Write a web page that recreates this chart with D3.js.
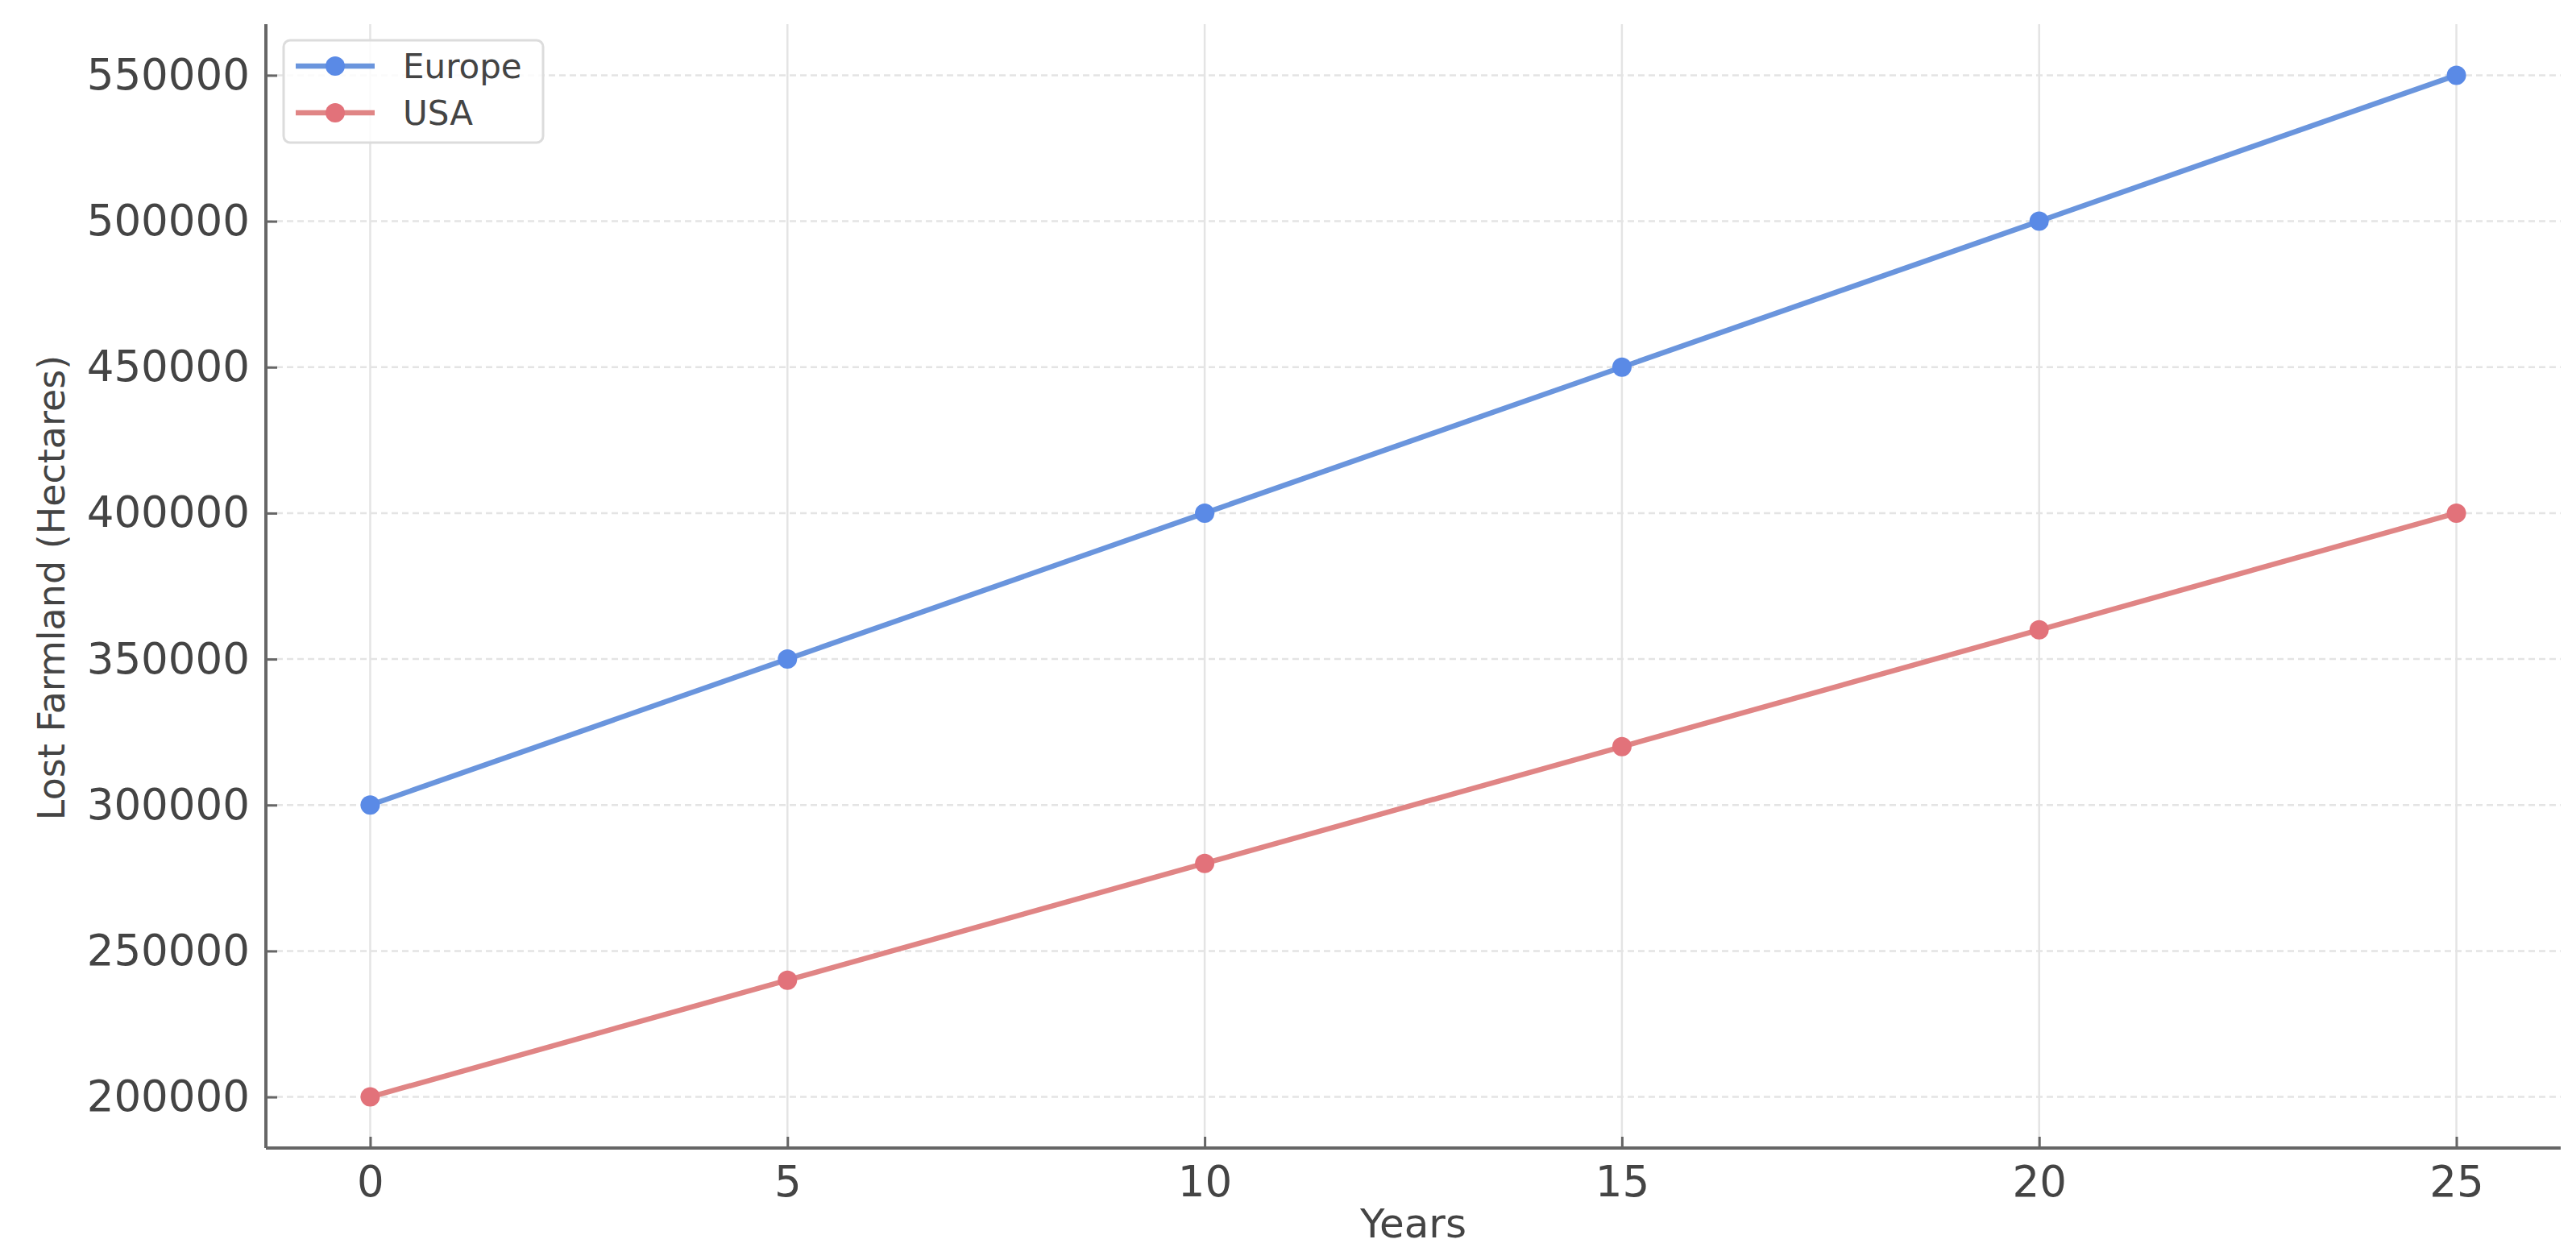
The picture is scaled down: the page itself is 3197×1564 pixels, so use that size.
<!DOCTYPE html>
<html><head><meta charset="utf-8">
<script src="https://cdn.jsdelivr.net/npm/d3@7"></script>
<style>html,body{margin:0;padding:0;background:#fff;}svg{display:block;}</style>
</head><body>
<svg id="chart" width="3197" height="1564"></svg>
<script>
const years = [0, 5, 10, 15, 20, 25];
const europe = [300000, 350000, 400000, 450000, 500000, 550000];
const usa = [200000, 240000, 280000, 320000, 360000, 400000];
const seriesNames = ["Europe", "USA"];
const xTicks = [0, 5, 10, 15, 20, 25];
const yTicks = [200000, 250000, 300000, 350000, 400000, 450000, 500000, 550000];

const W = 3197, H = 1564;
const m = {left: 330, right: 19, top: 30, bottom: 139};
const svg = d3.select("#chart");
const font = "DejaVu Sans, sans-serif";

const x = d3.scaleLinear().domain([-1.25, 26.25]).range([m.left, W - m.right]);
const y = d3.scaleLinear().domain([182500, 567500]).range([H - m.bottom, m.top]);

// grid
const g = svg.append("g");
g.selectAll(".vg").data(xTicks).enter().append("line")
  .attr("x1", d => x(d)).attr("x2", d => x(d))
  .attr("y1", m.top).attr("y2", H - m.bottom)
  .attr("stroke", "#e4e4e4").attr("stroke-width", 2.5);
g.selectAll(".hg").data(yTicks).enter().append("line")
  .attr("x1", m.left).attr("x2", W - m.right)
  .attr("y1", d => y(d)).attr("y2", d => y(d))
  .attr("stroke", "#e4e4e4").attr("stroke-width", 2.5).attr("stroke-dasharray", "8,5");

// axes
const xAxis = d3.axisBottom(x).tickValues(xTicks).tickSize(-14).tickPadding(28).tickFormat(d3.format("d"));
const yAxis = d3.axisLeft(y).tickValues(yTicks).tickSize(-14).tickPadding(20).tickFormat(d3.format("d"));

const gx = svg.append("g").attr("transform", `translate(0,${H - m.bottom})`).call(xAxis);
const gy = svg.append("g").attr("transform", `translate(${m.left},0)`).call(yAxis);
[gx, gy].forEach(a => {
  a.select(".domain").attr("stroke", "#666").attr("stroke-width", 4);
  a.selectAll(".tick line").attr("stroke", "#666").attr("stroke-width", 3);
  a.selectAll(".tick text").attr("fill", "#444").style("font-family", font).style("font-size", "53px");
});
gx.select(".domain").attr("d", `M${m.left},0H${W - m.right}`);
gy.select(".domain").attr("d", `M0,${m.top}V${H - m.bottom}`);
gx.selectAll(".tick text").attr("dy", "0.6em");

// axis titles
svg.append("text").attr("x", (m.left + W - m.right) / 2).attr("y", 1536)
  .attr("text-anchor", "middle").attr("fill", "#444")
  .style("font-family", font).style("font-size", "50px").text("Years");
svg.append("text").attr("transform", `translate(80,${(m.top + H - m.bottom) / 2 + 2}) rotate(-90)`)
  .attr("text-anchor", "middle").attr("fill", "#444")
  .style("font-family", font).style("font-size", "46px").text("Lost Farmland (Hectares)");

// series
const series = [
  {name: seriesNames[0], values: europe, line: "#6a95dd", dot: "#5a8ae6"},
  {name: seriesNames[1], values: usa, line: "#e08585", dot: "#e2727a"}
];
const line = d3.line().x((d, i) => x(years[i])).y(d => y(d));
series.forEach(s => {
  svg.append("path").datum(s.values).attr("d", line)
    .attr("fill", "none").attr("stroke", s.line).attr("stroke-width", 6.5);
  svg.selectAll(null).data(s.values).enter().append("circle")
    .attr("cx", (d, i) => x(years[i])).attr("cy", d => y(d)).attr("r", 12)
    .attr("fill", s.dot);
});

// legend
const lg = svg.append("g");
lg.append("rect").attr("x", 352).attr("y", 50).attr("width", 322).attr("height", 127)
  .attr("rx", 8).attr("fill", "#fff").attr("fill-opacity", 0.85)
  .attr("stroke", "#dcdcdc").attr("stroke-width", 3);
series.forEach((s, i) => {
  const ly = 82 + i * 58;
  lg.append("line").attr("x1", 367).attr("x2", 465).attr("y1", ly).attr("y2", ly)
    .attr("stroke", s.line).attr("stroke-width", 6.5);
  lg.append("circle").attr("cx", 416).attr("cy", ly).attr("r", 12).attr("fill", s.dot);
  lg.append("text").attr("x", 500).attr("y", ly).attr("dy", "0.36em")
    .attr("fill", "#444").style("font-family", font).style("font-size", "42px").text(s.name);
});
</script>
</body></html>
